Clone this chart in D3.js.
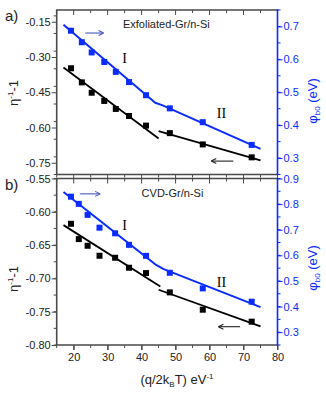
<!doctype html>
<html>
  <head>
    <script src="https://cdnjs.cloudflare.com/ajax/libs/d3/7.8.5/d3.min.js"></script>
  <style>
    body { margin: 0; background: #fff; }
    text { font-family: "Liberation Sans", Arial, sans-serif; }
    .roman { font-family: "Liberation Serif", "Times New Roman", serif; }
  </style>
  </head>
  <body>
    <svg width="326" height="394"></svg>
    <script>
      // panel a) Exfoliated-Gr/n-Si
      const xA = [19.2, 22.4, 25.3, 29.0, 32.4, 36.3, 41.3, 48.3, 58.0, 72.4];
      const etaA = [-0.348, -0.408, -0.452, -0.487, -0.521, -0.551, -0.592, -0.624, -0.672, -0.727];
      const phiA = [0.687, 0.652, 0.621, 0.592, 0.562, 0.531, 0.491, 0.451, 0.409, 0.340];
      const fitEtaA1 = [[17, -0.345], [45, -0.647]];
      const fitEtaA2 = [[45, -0.615], [75, -0.740]];
      const fitPhiA = [[17, 0.705], [44, 0.468], [46, 0.461], [75, 0.328]];

      // panel b) CVD-Gr/n-Si
      const xB = [19.2, 21.5, 24.1, 27.6, 32.2, 36.3, 41.3, 48.3, 58.0, 72.4];
      const etaB = [-0.618, -0.641, -0.651, -0.666, -0.669, -0.684, -0.692, -0.721, -0.747, -0.765];
      const phiB = [0.829, 0.801, 0.758, 0.708, 0.686, 0.641, 0.598, 0.532, 0.471, 0.419];
      const fitEtaB1 = [[17, -0.620], [45.5, -0.712]];
      const fitEtaB2 = [[45, -0.717], [75, -0.772]];
      const fitPhiB = [[17, 0.847], [44, 0.565], [46.5, 0.546], [75, 0.398]];

      const xTicks = [20, 30, 40, 50, 60, 70, 80];
      const xMinor = [15, 25, 35, 45, 55, 65, 75];
      const leftTicksA = [-0.75, -0.60, -0.45, -0.30, -0.15];
      const leftTicksB = [-0.80, -0.75, -0.70, -0.65, -0.60, -0.55];
      const rightTicksA = [0.3, 0.4, 0.5, 0.6, 0.7];
      const rightTicksB = [0.3, 0.4, 0.5, 0.6, 0.7, 0.8, 0.9];

      const blue = "#0a2cff";
      const frame = "#4a4a4a";
      const svg = d3.select("svg");

      const x = d3.scaleLinear().domain([15, 80]).range([56.7, 277.5]);

      function minorTicks(lo, hi, step) {
        const out = [];
        for (let v = lo; v <= hi + 1e-9; v += step) out.push(+v.toFixed(4));
        return out;
      }

      function panel(o) {
        const g = svg.append("g");
        const yL = d3.scaleLinear().domain(o.leftDomain).range([o.bottom, o.top]);
        const yR = d3.scaleLinear().domain(o.rightDomain).range([o.bottom, o.top]);

        // minor ticks
        const minorX = g.append("g").attr("stroke", frame).attr("stroke-width", 1);
        minorX.selectAll("line.t").data(xMinor).enter().append("line")
          .attr("x1", d => x(d)).attr("x2", d => x(d))
          .attr("y1", o.top).attr("y2", o.top + 3);
        minorX.selectAll("line.b").data(xMinor).enter().append("line")
          .attr("x1", d => x(d)).attr("x2", d => x(d))
          .attr("y1", o.bottom).attr("y2", o.bottom + 3);
        g.append("g").attr("stroke", frame).selectAll("line")
          .data(minorTicks(o.leftDomain[0], o.leftDomain[1], o.leftMinor)).enter().append("line")
          .attr("x1", x(15)).attr("x2", x(15) - 3)
          .attr("y1", d => yL(d)).attr("y2", d => yL(d));
        g.append("g").attr("stroke", blue).selectAll("line")
          .data(minorTicks(o.rightDomain[0], o.rightDomain[1], o.rightMinor)).enter().append("line")
          .attr("x1", x(80)).attr("x2", x(80) + 3)
          .attr("y1", d => yR(d)).attr("y2", d => yR(d));

        // major x ticks top (inward) and bottom
        g.append("g").attr("stroke", frame).selectAll("line")
          .data(xTicks).enter().append("line")
          .attr("x1", d => x(d)).attr("x2", d => x(d))
          .attr("y1", o.top).attr("y2", o.top + 5);
        g.append("g").attr("stroke", frame).selectAll("line")
          .data(xTicks).enter().append("line")
          .attr("x1", d => x(d)).attr("x2", d => x(d))
          .attr("y1", o.bottom).attr("y2", o.bottom + 5);

        const left = g.append("g").attr("transform", `translate(${x(15)},0)`)
          .call(d3.axisLeft(yL).tickValues(o.leftTicks).tickFormat(d => d.toFixed(2)).tickSize(5).tickPadding(1));
        left.select(".domain").remove();
        left.selectAll("line").attr("stroke", frame);
        left.selectAll("text").attr("fill", "#222").style("font-size", "11px");

        const right = g.append("g").attr("transform", `translate(${x(80)},0)`)
          .call(d3.axisRight(yR).tickValues(o.rightTicks).tickFormat(d => d.toFixed(1)).tickSize(5).tickPadding(1));
        right.select(".domain").remove();
        right.selectAll("line").attr("stroke", blue);
        right.selectAll("text").attr("fill", blue).style("font-size", "11px");

        // frame
        g.append("path")
          .attr("d", `M${x(80)},${o.top}H${x(15)}V${o.bottom}H${x(80)}`)
          .attr("fill", "none").attr("stroke", frame).attr("stroke-width", 1.6);
        g.append("line")
          .attr("x1", x(80)).attr("x2", x(80)).attr("y1", o.top - 0.8).attr("y2", o.bottom + 0.8)
          .attr("stroke", blue).attr("stroke-width", 1.6);

        // fit lines
        const lineL = d3.line().x(d => x(d[0])).y(d => yL(d[1]));
        const lineR = d3.line().x(d => x(d[0])).y(d => yR(d[1]));
        [o.fit1, o.fit2].forEach(f => {
          g.append("path").attr("d", lineL(f)).attr("fill", "none")
            .attr("stroke", "#000").attr("stroke-width", 1.8);
        });
        g.append("path").attr("d", lineR(o.fitPhi)).attr("fill", "none")
          .attr("stroke", blue).attr("stroke-width", 2).attr("stroke-linejoin", "round");

        // markers
        g.selectAll("rect.eta").data(o.xs).enter().append("rect")
          .attr("class", "eta")
          .attr("x", d => x(d) - 3).attr("y", (d, i) => yL(o.eta[i]) - 3)
          .attr("width", 6).attr("height", 6).attr("fill", "#000");
        g.selectAll("rect.phi").data(o.xs).enter().append("rect")
          .attr("class", "phi")
          .attr("x", d => x(d) - 3).attr("y", (d, i) => yR(o.phi[i]) - 3)
          .attr("width", 6).attr("height", 6).attr("fill", blue);

        // arrows
        const arrow = (x1, x2, y, color) => {
          g.append("line").attr("x1", x(x1)).attr("x2", x(x2)).attr("y1", y).attr("y2", y)
            .attr("stroke", color).attr("stroke-width", 1.1);
          const dir = x2 > x1 ? -1 : 1;
          g.append("path")
            .attr("d", `M${x(x2)},${y}l${dir * 5},-2.5M${x(x2)},${y}l${dir * 5},2.5`)
            .attr("stroke", color).attr("stroke-width", 1.1).attr("fill", "none");
        };
        arrow(o.blueArrow[0], o.blueArrow[1], yR(o.blueArrow[2]), "#4456b8");
        arrow(o.blackArrow[0], o.blackArrow[1], yL(o.blackArrow[2]), "#222");

        // labels
        g.append("text").attr("x", x(o.nameX)).attr("y", o.top + 18)
          .style("font-size", "11px").attr("fill", "#222").text(o.name);
        g.append("text").attr("class", "roman").attr("x", x(o.romanI[0])).attr("y", yL(o.romanI[1]))
          .attr("text-anchor", "middle").style("font-size", "14px").text("I");
        g.append("text").attr("class", "roman").attr("x", x(o.romanII[0])).attr("y", yL(o.romanII[1]))
          .attr("text-anchor", "middle").style("font-size", "14px").text("II");
        g.append("text").attr("x", 5).attr("y", o.top + 11)
          .style("font-size", "15px").attr("fill", "#222").text(o.tag);

        const yt = g.append("text").attr("transform", `translate(18,${o.leftLabelY}) rotate(-90)`)
          .attr("text-anchor", "middle").style("font-size", "13px").attr("fill", "#222");
        yt.append("tspan").text("η");
        yt.append("tspan").attr("dy", -5).style("font-size", "8px").text("-1");
        yt.append("tspan").attr("dy", 5).text("-1");

        const rt = g.append("text").attr("transform", `translate(317,${o.rightLabelY}) rotate(-90)`)
          .attr("text-anchor", "middle").style("font-size", "13px").attr("fill", blue);
        rt.append("tspan").text("φ");
        rt.append("tspan").attr("dy", 3).style("font-size", "8px").text("b0");
        rt.append("tspan").attr("dy", -3).text(" (eV)");
        return g;
      }

      panel({
        top: 10, bottom: 174.5,
        leftDomain: [-0.80, -0.10], rightDomain: [0.25, 0.75],
        leftTicks: leftTicksA, rightTicks: rightTicksA,
        leftMinor: 0.075, rightMinor: 0.05,
        xs: xA, eta: etaA, phi: phiA,
        fit1: fitEtaA1, fit2: fitEtaA2, fitPhi: fitPhiA,
        blueArrow: [23.4, 28.8, 0.68], blackArrow: [67, 60.5, -0.743],
        name: "Exfoliated-Gr/n-Si", nameX: 34.5,
        romanI: [35, -0.325], romanII: [63.5, -0.56],
        tag: "a)", leftLabelY: 93, rightLabelY: 101
      });

      panel({
        top: 178.5, bottom: 345,
        leftDomain: [-0.80, -0.55], rightDomain: [0.25, 0.90],
        leftTicks: leftTicksB, rightTicks: rightTicksB,
        leftMinor: 0.025, rightMinor: 0.05,
        xs: xB, eta: etaB, phi: phiB,
        fit1: fitEtaB1, fit2: fitEtaB2, fitPhi: fitPhiB,
        blueArrow: [21.9, 27.8, 0.84], blackArrow: [69, 62.6, -0.7725],
        name: "CVD-Gr/n-Si", nameX: 40,
        romanI: [35, -0.627], romanII: [63.5, -0.7125],
        tag: "b)", leftLabelY: 279, rightLabelY: 268
      });

      // x tick labels and title
      const xl = svg.append("g").attr("transform", "translate(0,345)")
        .call(d3.axisBottom(x).tickValues(xTicks).tickSize(5).tickPadding(3));
      xl.select(".domain").remove();
      xl.selectAll("line").attr("stroke", "#4a4a4a");
      xl.selectAll("text").attr("fill", "#222").style("font-size", "11px");

      const xt = svg.append("text").attr("x", 177).attr("y", 384)
        .attr("text-anchor", "middle").style("font-size", "13px").attr("fill", "#222");
      xt.append("tspan").text("(q/2k");
      xt.append("tspan").attr("dy", 3).style("font-size", "8px").text("B");
      xt.append("tspan").attr("dy", -3).text("T) eV");
      xt.append("tspan").attr("dy", -5).style("font-size", "8px").text("-1");
    </script>
  </body>
</html>
